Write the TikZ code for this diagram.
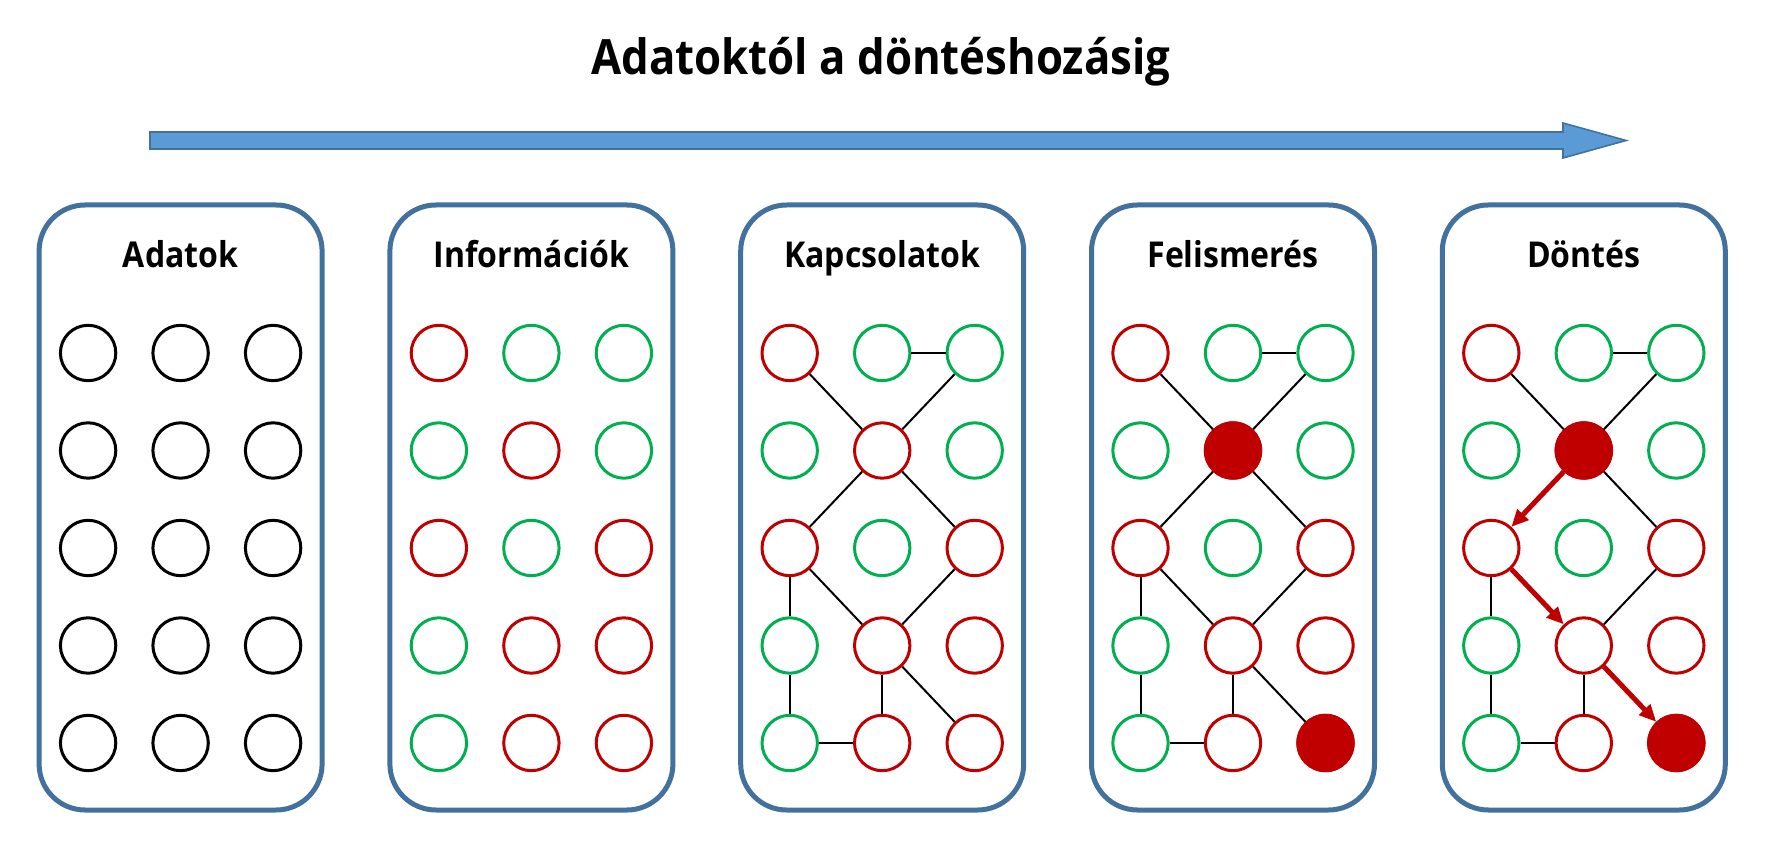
\documentclass[tikz,border=0pt]{standalone}
\usepackage{fontspec}
\setmainfont{Open Sans}
\newfontfamily\headfont{Open Sans}[FakeStretch=0.9]
\usetikzlibrary{positioning, arrows.meta}

\definecolor{boxblue}{HTML}{41719C}
\definecolor{arrowblue}{HTML}{5B9BD5}
\definecolor{dred}{HTML}{C00000}
\definecolor{dgreen}{HTML}{00B050}

\begin{document}
\begin{tikzpicture}[x=0.5pt, y=-0.5pt, >={Triangle[length=8.5pt, width=7.5pt]},
  panel/.style={draw=boxblue, line width=2.5pt, rounded corners=23pt, minimum width=141.5pt, minimum height=302.5pt, inner sep=0pt},
  head/.style={anchor=base, font=\headfont\bfseries\fontsize{17.8}{21}\selectfont},
  dot/.style={circle, draw, line width=1.5pt, minimum size=27.7pt, inner sep=0pt},
  edge/.style={draw=black, line width=1pt},
  pick/.style={draw=dred, line width=2.5pt, ->}]

\useasboundingbox (0,0) rectangle (1771,854);

% Title and progress arrow
\node[anchor=base, font=\headfont\bfseries\fontsize{24.3}{28}\selectfont] (title) at (881,74.3) {Adatoktól a döntéshozásig};
\draw[fill=arrowblue, draw=boxblue, line width=0.8pt] (150,132) -- (1563,132) -- (1563,123) -- (1626,140.5) -- (1563,158) -- (1563,149) -- (150,149) -- cycle;

% Panels
\foreach \p/\txt in {1/Adatok, 2/Információk, 3/Kapcsolatok, 4/Felismerés, 5/Döntés} {
  \node[panel] (p\p) at ({180.6+(\p-1)*350.8}, 507.5) {};
  \node[head] (h\p) at ({180.6+(\p-1)*350.8}, 267.7) {\txt};
}

% Define nodes
\foreach \j in {1,2,3}
  \foreach \r in {1,...,5}
    \node[dot, draw=black] (c1\j\r) at ({180.6+(\j-2)*92.5}, {353+(\r-1)*97.5}) {};

\foreach \j/\r/\col in {1/1/dred, 2/1/dgreen, 3/1/dgreen, 1/2/dgreen, 2/2/dred, 3/2/dgreen, 1/3/dred, 2/3/dgreen, 3/3/dred, 1/4/dgreen, 2/4/dred, 3/4/dred, 1/5/dgreen, 2/5/dred, 3/5/dred}
  \foreach \p in {2,...,5}
    \node[dot, draw=\col] (c\p\j\r) at ({180.6+(\p-1)*350.8+(\j-2)*92.5}, {353+(\r-1)*97.5}) {};

\foreach \p in {4,5} {
  \fill[dred] (c\p22) circle (14.6pt);
  \fill[dred] (c\p35) circle (14.6pt);
}

% Draw edges
\foreach \p in {3,4,5} {
  \draw[edge] (c\p21) -- (c\p31);
  \draw[edge] (c\p11) -- (c\p22);
  \draw[edge] (c\p31) -- (c\p22);
  \draw[edge] (c\p22) -- (c\p33);
  \draw[edge] (c\p13) -- (c\p14);
  \draw[edge] (c\p33) -- (c\p24);
  \draw[edge] (c\p14) -- (c\p15);
  \draw[edge] (c\p15) -- (c\p25);
  \draw[edge] (c\p24) -- (c\p25);
}
\foreach \p in {3,4} {
  \draw[edge] (c\p22) -- (c\p13);
  \draw[edge] (c\p13) -- (c\p24);
  \draw[edge] (c\p24) -- (c\p35);
}

% Decision path
\draw[pick] (c522) -- (c513);
\draw[pick] (c513) -- (c524);
\draw[pick] (c524) -- (c535);

\end{tikzpicture}
\end{document}
